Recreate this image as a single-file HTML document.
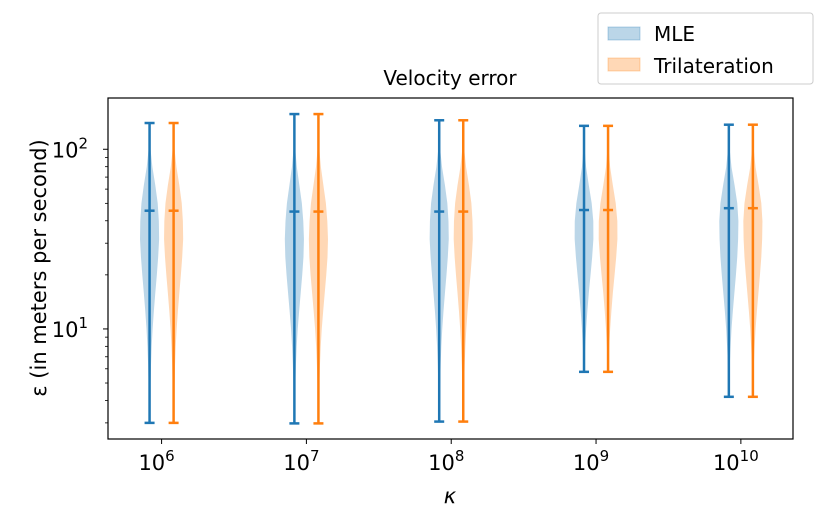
<!DOCTYPE html>
<html><head><meta charset="utf-8"><style>
body{margin:0;background:#fff;font-family:"Liberation Sans","DejaVu Sans",sans-serif}
</style></head><body>
<svg id="chart" width="830" height="525" xmlns="http://www.w3.org/2000/svg" font-family="'DejaVu Sans','Liberation Sans',sans-serif">
<rect width="830" height="525" fill="#fff"/>
<g id="plot"></g>
<rect x="108" y="98" width="685" height="341" fill="none" stroke="#000" stroke-width="1.2"/>
<g id="axes"></g>
<text x="450" y="85" text-anchor="middle" font-size="20">Velocity error</text>
<text x="450" y="503" text-anchor="middle" font-size="21" font-style="italic">κ</text>
<text transform="translate(46,268) rotate(-90)" text-anchor="middle" font-size="21">ε (in meters per second)</text>
<g>
<rect x="598" y="13" width="215" height="71" rx="3" fill="#fff" stroke="#ccc"/>
<g>
<rect x="608" y="27" width="32" height="13" fill="#1f77b4" fill-opacity="0.3" stroke="#1f77b4" stroke-opacity="0.3"/>
<text x="654" y="41" font-size="20">MLE</text></g>
<g>
<rect x="608" y="58" width="32" height="13" fill="#ff7f0e" fill-opacity="0.3" stroke="#ff7f0e" stroke-opacity="0.3"/>
<text x="654" y="73" font-size="20">Trilateration</text></g>
</g>
</svg>
<script>
const categories=["6","7","8","9","10"];
const mleMin=[3.0,2.98,3.05,5.77,4.19];
const mleMax=[140,157,145,135,137];
const mleMedian=[45.5,45,45,45.9,47];
const triMin=[3.0,2.98,3.05,5.77,4.19];
const triMax=[140,157,145,135,137];
const triMedian=[45.5,45,45,45.9,47];
const logLevels=[0.4,0.5,0.6,0.7,0.8,0.9,1.0,1.1,1.2,1.3,1.4,1.5,1.6,1.7,1.8,1.9,2.0,2.1,2.2];
const density0=[0,0.03,0.06,0.1,0.15,0.22,0.32,0.45,0.6,0.76,0.9,1.0,0.97,0.85,0.6,0.3,0.1,0.03,0];
const density1=[0,0.03,0.06,0.1,0.16,0.24,0.35,0.5,0.66,0.82,0.95,1.0,0.93,0.78,0.52,0.26,0.09,0.03,0.01];
const density2=[0,0.03,0.06,0.1,0.15,0.22,0.32,0.45,0.6,0.76,0.9,1.0,0.97,0.85,0.6,0.3,0.1,0.03,0];
const density3=[0,0,0,0,0.05,0.12,0.22,0.35,0.5,0.68,0.85,0.98,0.97,0.8,0.5,0.22,0.07,0.02,0];
const density4=[0,0,0.02,0.05,0.1,0.18,0.28,0.42,0.58,0.74,0.88,0.97,1.0,0.88,0.6,0.28,0.09,0.02,0];
const densities=[density0,density1,density2,density3,density4];
const yTicks=[1,2];

const NS="http://www.w3.org/2000/svg";
const X0=108,X1=793,Y0=98,Y1=439;
const xDom=[-0.37,4.36],yDom=[Math.log10(2.44),Math.log10(192.9)];
const xs=v=>X0+(v-xDom[0])/(xDom[1]-xDom[0])*(X1-X0);
const ys=v=>Y1-(Math.log10(v)-yDom[0])/(yDom[1]-yDom[0])*(Y1-Y0);
const ysl=l=>Y1-(l-yDom[0])/(yDom[1]-yDom[0])*(Y1-Y0);
const plot=document.getElementById('plot'),axes=document.getElementById('axes');
function mk(t,a,p){const e=document.createElementNS(NS,t);for(const k in a)e.setAttribute(k,a[k]);(p||plot).appendChild(e);return e;}
const HALF=0.066,OFF=0.083;
function violin(i,off,col,mn,mx,md,nm){
  const cx=i+off,d=densities[i];
  const lmn=Math.log10(mn),lmx=Math.log10(mx);
  const pts=[];
  const samp=[lmn];logLevels.forEach(l=>{if(l>lmn&&l<lmx)samp.push(l)});samp.push(lmx);
  const w=l=>{let j=0;while(j<logLevels.length-2&&logLevels[j+1]<l)j++;const t=Math.max(0,Math.min(1,(l-logLevels[j])/(logLevels[j+1]-logLevels[j])));return d[j]+(d[j+1]-d[j])*t;};
  samp.forEach(l=>pts.push([xs(cx+HALF*w(l)),ysl(l)]));
  samp.slice().reverse().forEach(l=>pts.push([xs(cx-HALF*w(l)),ysl(l)]));
  const body=mk('polygon',{points:pts.map(p=>p.join(',')).join(' '),fill:col,'fill-opacity':0.3});
  
  
  const x=xs(cx);
  const ln=mk('line',{x1:x,x2:x,y1:ys(mn),y2:ys(mx),stroke:col,'stroke-width':2.5});
  
  
  [[mn,'min'],[mx,'max'],[md,'median']].forEach(([v,k])=>{
    const c=mk('line',{x1:x-5,x2:x+5,y1:ys(v),y2:ys(v),stroke:col,'stroke-width':2.5});
    
    
  });
}
categories.forEach((c,i)=>{
  violin(i,-OFF,'#1f77b4',mleMin[i],mleMax[i],mleMedian[i],'mle-'+c);
  violin(i,OFF,'#ff7f0e',triMin[i],triMax[i],triMedian[i],'tri-'+c);
  const x=xs(i);
  const t=mk('line',{x1:x,x2:x,y1:Y1,y2:Y1+5,stroke:'#000','stroke-width':1},axes);
  
  
  const tx=mk('text',{x:x-5,y:Y1+31,'text-anchor':'middle','font-size':21},axes);
  
  
  tx.innerHTML='10<tspan dy="-9" font-size="15">'+c+'</tspan>';
});
yTicks.forEach(p=>{
  const y=ys(Math.pow(10,p));
  const t=mk('line',{x1:X0-5,x2:X0,y1:y,y2:y,stroke:'#000','stroke-width':1},axes);
  
  
  const tx=mk('text',{x:X0-20,y:y+8,'text-anchor':'end','font-size':21},axes);
  
  
  tx.innerHTML='10<tspan dy="-9" font-size="15">'+p+'</tspan>';
});
for(let p=0;p<=2;p++)for(let m=2;m<=9;m++){const v=m*Math.pow(10,p);if(v<2.44||v>192.9)continue;const y=ys(v);
  const t=mk('line',{x1:X0-3,x2:X0,y1:y,y2:y,stroke:'#000','stroke-width':0.8},axes);
  
  }
</script>
</body></html>
